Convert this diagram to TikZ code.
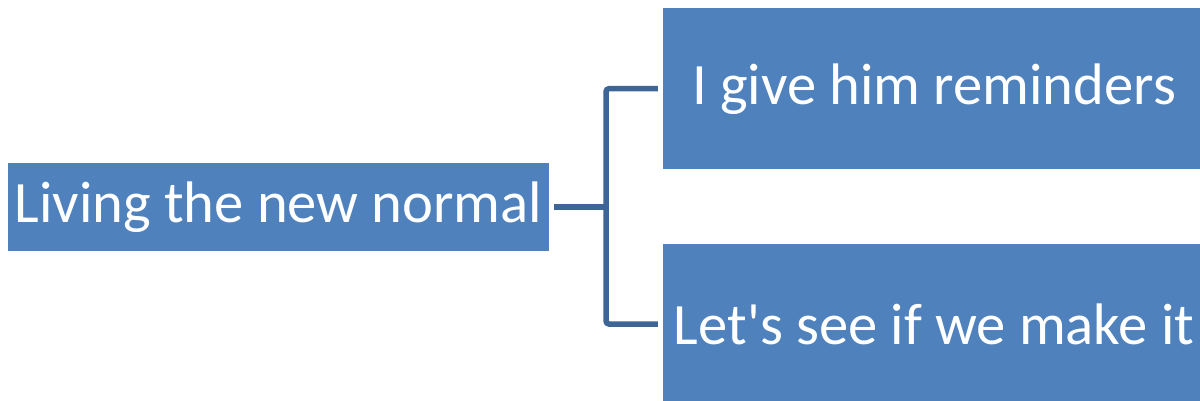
\documentclass[tikz,border=0pt]{standalone}
\usepackage{fontspec}
\setmainfont{Carlito}
\definecolor{boxblue}{HTML}{4F81BD}
\definecolor{linkblue}{HTML}{3D6696}
\begin{document}
\begin{tikzpicture}[x=1pt,y=-1pt,
  box/.style={fill=boxblue, draw=none, text=white, inner sep=0pt,
    font=\fontsize{58.6}{70}\selectfont, anchor=center},
  link/.style={draw=linkblue, line width=5.5pt, rounded corners=3pt}]
\useasboundingbox (0,0) rectangle (1200,401);
\clip (0,0) rectangle (1200,401);
\node[box, minimum width=541pt, minimum height=87.5pt] (left) at (278.5,206.75) {Living the new normal};
\node[box, minimum width=542pt, minimum height=161pt] (top) at (934,88.7) {I give him reminders};
\node[box, minimum width=542pt, minimum height=161pt] (bot) at (934,324) {Let\textquotesingle s see if we make it};
\coordinate (junc) at (606,206.75);
\draw[link] ([xshift=5pt]left.east) -- (junc);
\draw[link] (junc) |- ([xshift=-5pt]top.west);
\draw[link] (junc) |- ([xshift=-5pt]bot.west);
\end{tikzpicture}
\end{document}
